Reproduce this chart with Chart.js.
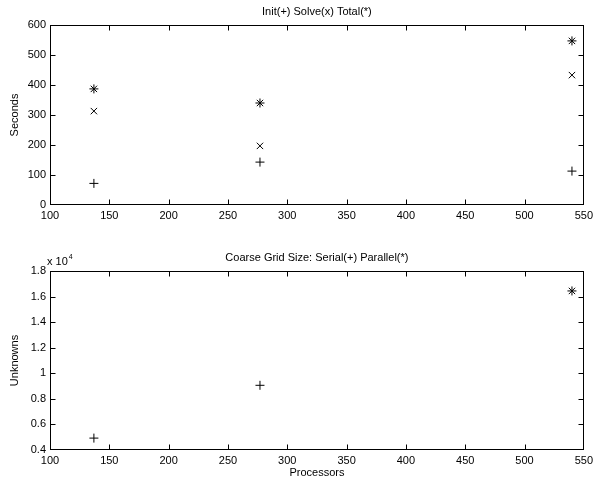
<!DOCTYPE html>
<html>
<head>
<meta charset="utf-8">
<script src="https://cdn.jsdelivr.net/npm/chart.js@4/dist/chart.umd.min.js"></script>
<style>
  body { margin: 0; background: #fff; }
  .box { position: absolute; left: 0; width: 597px; }
</style>
</head>
<body>
<div class="box" style="top:0;height:240px"><canvas id="timeChart"></canvas></div>
<div class="box" style="top:240px;height:243px"><canvas id="gridChart"></canvas></div>
<script>
// data
const procs = [137, 277, 540];
const initTime = [72, 143, 113];
const solveTime = [313, 197, 433];
const totalTime = [387, 340, 547];
const serialProcs = [137, 277];
const serialSize = [4930, 9060];
const parallelProcs = [540];
const parallelSize = [16440];

const xTicks = [100, 550, 50];       // min, max, step
const secTicks = [0, 600, 100];
const unkTicks = [4000, 18000, 2000];

const FONT = "'Liberation Sans', Arial, Helvetica, sans-serif";
Chart.defaults.font.family = FONT;
Chart.defaults.font.size = 11;
Chart.defaults.color = '#000';

function pts(xs, ys) {
  return xs.map((x, i) => ({ x: x, y: ys[i] }));
}

// matlab style box with inward ticks on all sides
const boxTicks = {
  id: 'boxTicks',
  afterDraw(chart) {
    const { ctx, chartArea: a, scales } = chart;
    const L = 5;
    const l = Math.round(a.left) + 0.5, r = Math.round(a.right) - 0.5;
    const t = Math.round(a.top) + 0.5, b = Math.round(a.bottom) - 0.5;
    ctx.save();
    ctx.strokeStyle = '#000';
    ctx.lineWidth = 1;
    ctx.strokeRect(l, t, r - l, b - t);
    ctx.beginPath();
    scales.x.ticks.forEach(tk => {
      const px = Math.min(r, Math.max(l, Math.round(scales.x.getPixelForValue(tk.value)) + 0.5));
      ctx.moveTo(px, b); ctx.lineTo(px, b - L);
      ctx.moveTo(px, t); ctx.lineTo(px, t + L);
    });
    scales.y.ticks.forEach(tk => {
      const py = Math.min(b, Math.max(t, Math.round(scales.y.getPixelForValue(tk.value)) + 0.5));
      ctx.moveTo(l, py); ctx.lineTo(l + L, py);
      ctx.moveTo(r, py); ctx.lineTo(r - L, py);
    });
    ctx.stroke();
    ctx.restore();
  }
};

// "x 10^4" exponent label above the y axis
const expLabel = {
  id: 'expLabel',
  afterDraw(chart) {
    if (!chart.options.plugins.expLabel.show) return;
    const { ctx, chartArea: a } = chart;
    ctx.save();
    ctx.fillStyle = '#000';
    ctx.textBaseline = 'alphabetic';
    ctx.font = '11px ' + FONT;
    ctx.fillText('x 10', a.left - 3, a.top - 6);
    const w = ctx.measureText('x 10').width;
    ctx.font = '7px ' + FONT;
    ctx.fillText('4', a.left - 3 + w + 1, a.top - 12);
    ctx.restore();
  }
};

function fixW(w) { return s => { s.width = w; }; }
function fixH(h) { return s => { s.height = h; }; }

function baseOptions(opts) {
  return {
    responsive: true,
    maintainAspectRatio: false,
    animation: false,
    events: [],
    layout: { padding: { top: 0, right: 11, bottom: 0, left: 0 } },
    plugins: {
      legend: { display: false },
      tooltip: { enabled: false },
      expLabel: { show: opts.exp }
    },
    scales: {
      x: {
        type: 'linear', min: xTicks[0], max: xTicks[1],
        grid: { display: false, drawTicks: false },
        border: { display: false },
        ticks: { stepSize: xTicks[2], padding: 4, maxRotation: 0 },
        title: { display: !!opts.xTitle, text: opts.xTitle, padding: { top: 0, bottom: 3.4 } },
        afterFit: fixH(opts.xH)
      },
      // top axis only carries the plot title, centred over the plot box
      xTop: {
        type: 'linear', position: 'top', min: xTicks[0], max: xTicks[1],
        grid: { display: false, drawTicks: false },
        border: { display: false },
        ticks: { display: false },
        title: { display: true, text: opts.title, padding: { top: opts.titleTop, bottom: 0 } },
        afterFit: fixH(opts.topH)
      },
      y: {
        type: 'linear', min: opts.yTicks[0], max: opts.yTicks[1],
        grid: { display: false, drawTicks: false },
        border: { display: false },
        ticks: { stepSize: opts.yTicks[2], padding: 4, callback: opts.yFmt },
        title: { display: true, text: opts.yTitle, padding: { top: 8.4, bottom: 0 } },
        afterFit: fixW(50)
      }
    }
  };
}

function marker(style, r) {
  return {
    pointStyle: style, pointRadius: r, borderColor: '#000',
    backgroundColor: '#000', borderWidth: 1, showLine: false
  };
}

new Chart(document.getElementById('timeChart'), {
  type: 'scatter',
  data: {
    datasets: [
      Object.assign({ label: 'Init', data: pts(procs, initTime) }, marker('cross', 4.5)),
      Object.assign({ label: 'Solve', data: pts(procs, solveTime) }, marker('crossRot', 4.5)),
      Object.assign({ label: 'Total', data: pts(procs, totalTime) }, marker('star', 4.5))
    ]
  },
  options: baseOptions({
    title: 'Init(+) Solve(x) Total(*)', titleTop: 5.4, topH: 25,
    xH: 35, xTitle: '', yTicks: secTicks, yTitle: 'Seconds',
    yFmt: v => v, exp: false
  }),
  plugins: [boxTicks, expLabel]
});

new Chart(document.getElementById('gridChart'), {
  type: 'scatter',
  data: {
    datasets: [
      Object.assign({ label: 'Serial', data: pts(serialProcs, serialSize) }, marker('cross', 4.5)),
      Object.assign({ label: 'Parallel', data: pts(parallelProcs, parallelSize) }, marker('star', 4.5))
    ]
  },
  options: baseOptions({
    title: 'Coarse Grid Size: Serial(+) Parallel(*)', titleTop: 11.4, topH: 31,
    xH: 33, xTitle: 'Processors', yTicks: unkTicks, yTitle: 'Unknowns',
    yFmt: v => parseFloat((v / 1e4).toFixed(1)), exp: true
  }),
  plugins: [boxTicks, expLabel]
});
</script>
</body>
</html>
